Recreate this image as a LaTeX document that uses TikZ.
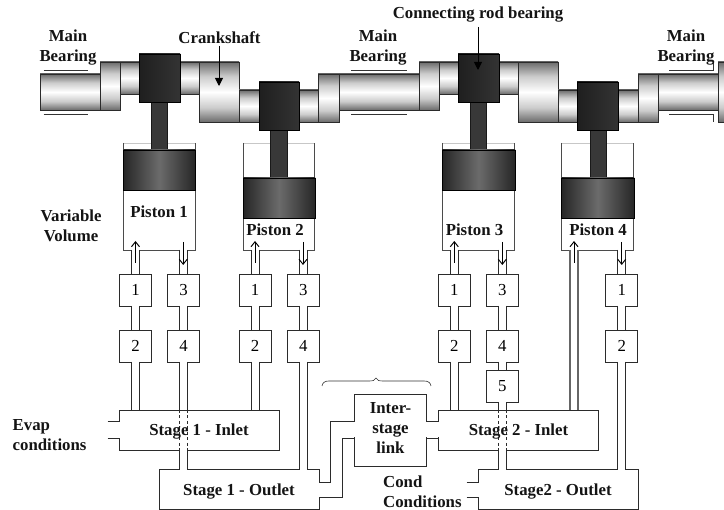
\documentclass[tikz,border=0pt]{standalone}
\usepackage{fontspec}
\setmainfont{Liberation Serif}
\usetikzlibrary{arrows.meta}
\definecolor{ln}{HTML}{2B2B2B}
\pgfdeclareverticalshading{shaftshade}{100bp}{color(0bp)=(black!58); color(25bp)=(black!58); color(37bp)=(black!20); color(50bp)=(white); color(63bp)=(black!20); color(75bp)=(black!58); color(100bp)=(black!58)}
\tikzset{
  x=1pt,y=-1pt,
  lbl/.style={font=\bfseries\fontsize{16.8}{20}\selectfont,align=center,inner sep=0pt,text=black!92},
  lbll/.style={lbl,align=left},
  box/.style={draw=ln,line width=.9pt,fill=white,inner sep=0pt,outer sep=0pt,minimum width=32pt,minimum height=32pt,font=\fontsize{16.8}{20}\selectfont},
  stagebox/.style={draw=ln,line width=.9pt,fill=white,inner sep=0pt,outer sep=0pt,minimum width=159.5pt,minimum height=40pt},
  cyl/.style={inner sep=0pt,outer sep=0pt,minimum width=71.5pt,minimum height=107pt},
  wall/.style={draw=ln!85,line width=.9pt},
  pipeline/.style={draw=ln,line width=.9pt},
  shaft/.style={draw=ln,line width=.9pt,shading=shaftshade},
  bearing/.style={draw=black,line width=.9pt,left color=black!88,right color=black!80},
  rodp/.style={draw=black!90,line width=.9pt,fill=black!78},
  pist/.style={draw=black,line width=.9pt,left color=black!85,right color=black!85,middle color=black!58},
  flow/.style={line width=.95pt,black,-{Straight Barb[length=5pt,width=8pt]}},
  callout/.style={line width=.9pt,black,-{Triangle[length=8pt,width=8pt]}},
  bline/.style={line width=.7pt,black!80}
}
% rectangle helper
\newcommand\seg[5][shaft]{\path[#1] (#2,#3) rectangle (#4,#5);}
% vertical pipe of centre x #3 from the bottom of node #1 to the top of node #2
\newcommand\vpipe[3]{%
  \fill[white] ({#3-4},0 |- #1.south) rectangle ({#3+4},0 |- #2.north);
  \draw[pipeline] ({#3-4},0 |- #1.south) -- ({#3-4},0 |- #2.north);
  \draw[pipeline] ({#3+4},0 |- #1.south) -- ({#3+4},0 |- #2.north);
}
% dashed part of a pipe crossing node #1, then solid down to node #2
\newcommand\crosspipe[3]{%
  \draw[pipeline,dash pattern=on 3pt off 2.5pt] ({#3-4},0 |- #1.north) -- ({#3-4},0 |- #1.south);
  \draw[pipeline,dash pattern=on 3pt off 2.5pt] ({#3+4},0 |- #1.north) -- ({#3+4},0 |- #1.south);
  \vpipe{#1}{#2}{#3}
}
% cylinder open at the top
\newcommand\cylinder[3]{%
  \node[cyl] (#1) at (#2,#3) {};
  \draw[black!22,line width=.8pt] (#1.north west) -- (#1.north east);
  \draw[wall] (#1.north west) -- (#1.south west) -- (#1.south east) -- (#1.north east);
}
\begin{document}
\begin{tikzpicture}
\useasboundingbox (0,0) rectangle (724,510);
\fill[white] (0,0) rectangle (724,510);
% cylinders
\cylinder{c1}{159.25}{196.5}
\cylinder{c2}{279}{196.5}
\cylinder{c3}{478.5}{196.5}
\cylinder{c4}{597.5}{196.5}
% rods
\seg[rodp]{151}{100}{167}{151}
\seg[rodp]{270.5}{128}{287}{179}
\seg[rodp]{470}{100}{486}{151}
\seg[rodp]{590}{128}{606}{179}
% pistons
\seg[pist]{123.5}{150}{195}{190.7}
\seg[pist]{243}{178}{315}{218.7}
\seg[pist]{442}{150}{515}{190.7}
\seg[pist]{561.5}{178}{634}{218.7}
% crankshaft
\seg{40}{74}{100}{110}
\seg{100}{62}{120}{110}
\seg{120}{62}{139}{94}
\seg{180}{62}{199}{94}
\seg{199}{62}{239}{122}
\seg{239}{90}{259}{122}
\seg{299}{90}{318}{122}
\seg{318}{74}{339}{122}
\seg{339}{74}{419}{110}
\seg{419}{62}{439}{110}
\seg{439}{62}{458}{94}
\seg{499}{62}{518}{94}
\seg{518}{62}{558}{122}
\seg{558}{90}{577}{122}
\seg{618}{90}{638}{122}
\seg{638}{74}{658}{122}
\seg{658}{74}{718}{110}
\seg{718}{62}{726}{122}
% rod bearings
\seg[bearing]{139}{54}{180}{102}
\seg[bearing]{259}{82}{299}{130}
\seg[bearing]{458}{54}{499}{102}
\seg[bearing]{577}{82}{618}{130}
% main bearing marks
\draw[bline] (43.5,70.5) -- (88,70.5) (43.5,114.5) -- (88,114.5);
\draw[bline] (351,70.5) -- (406.5,70.5) (351,114.5) -- (406.5,114.5);
\draw[bline] (669,70.5) -- (713.7,70.5) -- (713.7,63.5);
\draw[bline] (669,114.5) -- (713.7,114.5) -- (713.7,122.5);
% stage boxes
\node[stagebox] (s1i) at (199.5,430) {};
\node[stagebox] (s1o) at (239.25,489.7) {};
\node[stagebox] (s2i) at (518.25,430) {};
\node[stagebox] (s2o) at (558.25,489.7) {};
\node[box,minimum width=72.5pt,minimum height=72pt] (il) at (390.5,430) {};
% valve boxes
\node[box] (a1) at (135.5,290) {1};
\node[box] (a2) at (135.5,346) {2};
\node[box] (a3) at (183.5,290) {3};
\node[box] (a4) at (183.5,346) {4};
\node[box] (b1) at (255,290) {1};
\node[box] (b2) at (255,346) {2};
\node[box] (b3) at (303.2,290) {3};
\node[box] (b4) at (303.2,346) {4};
\node[box] (d1) at (454.3,290) {1};
\node[box] (d2) at (454.3,346) {2};
\node[box] (d3) at (502.3,290) {3};
\node[box] (d4) at (502.3,346) {4};
\node[box] (d5) at (502.3,386.2) {5};
\node[box] (e1) at (621.8,290) {1};
\node[box] (e2) at (621.8,346) {2};
% pipes
\vpipe{c1}{a1}{135.5}\vpipe{a1}{a2}{135.5}\vpipe{a2}{s1i}{135.5}
\vpipe{c1}{a3}{183.5}\vpipe{a3}{a4}{183.5}\vpipe{a4}{s1i}{183.5}
\crosspipe{s1i}{s1o}{183.5}
\vpipe{c2}{b1}{255}\vpipe{b1}{b2}{255}\vpipe{b2}{s1i}{255}
\vpipe{c2}{b3}{303.2}\vpipe{b3}{b4}{303.2}\vpipe{b4}{s1o}{303.2}
\vpipe{c3}{d1}{454.3}\vpipe{d1}{d2}{454.3}\vpipe{d2}{s2i}{454.3}
\vpipe{c3}{d3}{502.3}\vpipe{d3}{d4}{502.3}\vpipe{d4}{d5}{502.3}\vpipe{d5}{s2i}{502.3}
\crosspipe{s2i}{s2o}{502.3}
\vpipe{c4}{e1}{621.8}\vpipe{e1}{e2}{621.8}\vpipe{e2}{s2o}{621.8}
\fill[white] (570,250.5) rectangle (578,409.5);
\draw[black!60,line width=1.3pt] (570,250) -- (570,0 |- s2i.north) (578,250) -- (578,0 |- s2i.north);
% side ports
\fill[white] (119,422.2) rectangle (121,437.6);
\draw[pipeline] (107.5,421.7) -- (s1i.west |- 0,421.7) (107.5,438) -- (s1i.west |- 0,438);
\fill[white] (318,482.5) rectangle (320,497);
\draw[pipeline] (s1o.east |- 0,482) -- (330.5,482) -- (330.5,421.2) -- (il.west |- 0,421.2);
\draw[pipeline] (s1o.east |- 0,497.5) -- (342.5,497.5) -- (342.5,438) -- (il.west |- 0,438);
\fill[white] (353.5,421.7) rectangle (355,437.5);
\fill[white] (426,421.7) rectangle (439.5,437.5);
\draw[pipeline] (il.east |- 0,421.4) -- (s2i.west |- 0,421.4) (il.east |- 0,438) -- (s2i.west |- 0,438);
\fill[white] (477.5,482.5) rectangle (479.5,497);
\draw[pipeline] (466.5,482) -- (s2o.west |- 0,482) (466.5,497.5) -- (s2o.west |- 0,497.5);
% brace
\draw[line width=.6pt,black!80] (322,386) .. controls (322.5,382.5) and (325,381) .. (329,381) -- (369,381) .. controls (373,381) and (375,380.5) .. (376,378) .. controls (377,380.5) and (379,381) .. (383,381) -- (424,381) .. controls (428,381) and (430.5,382.5) .. (431,386);
% flow arrows
\foreach \xx in {135.5,255,454.3,574} \draw[flow] (\xx,263) -- (\xx,241);
\foreach \xx in {183.2,303,502.3,621.7} \draw[flow] (\xx,242) -- (\xx,265);
% labels
\node[lbl] (t1) at (68,48) {Main\\Bearing};
\node[lbl] (t2) at (378,48) {Main\\Bearing};
\node[lbl] (t3) at (686,48) {Main\\Bearing};
\node[lbl] (t4) at (219.5,38) {Crankshaft};
\node[lbl] (t5) at (478,15) {Connecting rod bearing};
\coordinate (ca) at (219,86);
\coordinate (cb) at (478,70);
\draw[callout] (219,46) -- (ca);
\draw[callout] (478,27) -- (cb);
\node[lbl] (t6) at (71,226) {Variable\\Volume};
\node[lbl] (p1) at (159,212) {Piston 1};
\node[lbl] (p2) at (275,230) {Piston 2};
\node[lbl] (p3) at (474.5,230) {Piston 3};
\node[lbl] (p4) at (598,230) {Piston 4};
\node[lbl] (s1) at (199,432) {Stage 1 - Inlet};
\node[lbl] (s2) at (239,492) {Stage 1 - Outlet};
\node[lbl] (s3) at (518.5,432) {Stage 2 - Inlet};
\node[lbl] (s4) at (558,492) {Stage2 - Outlet};
\node[lbl] (s5) at (390.5,428) {Inter-\\stage\\link};
\node[lbll,anchor=west] (t7) at (12.5,435.5) {Evap\\conditions};
\node[lbll,anchor=west] (t8) at (383,492) {Cond\\Conditions};
\end{tikzpicture}
\end{document}
